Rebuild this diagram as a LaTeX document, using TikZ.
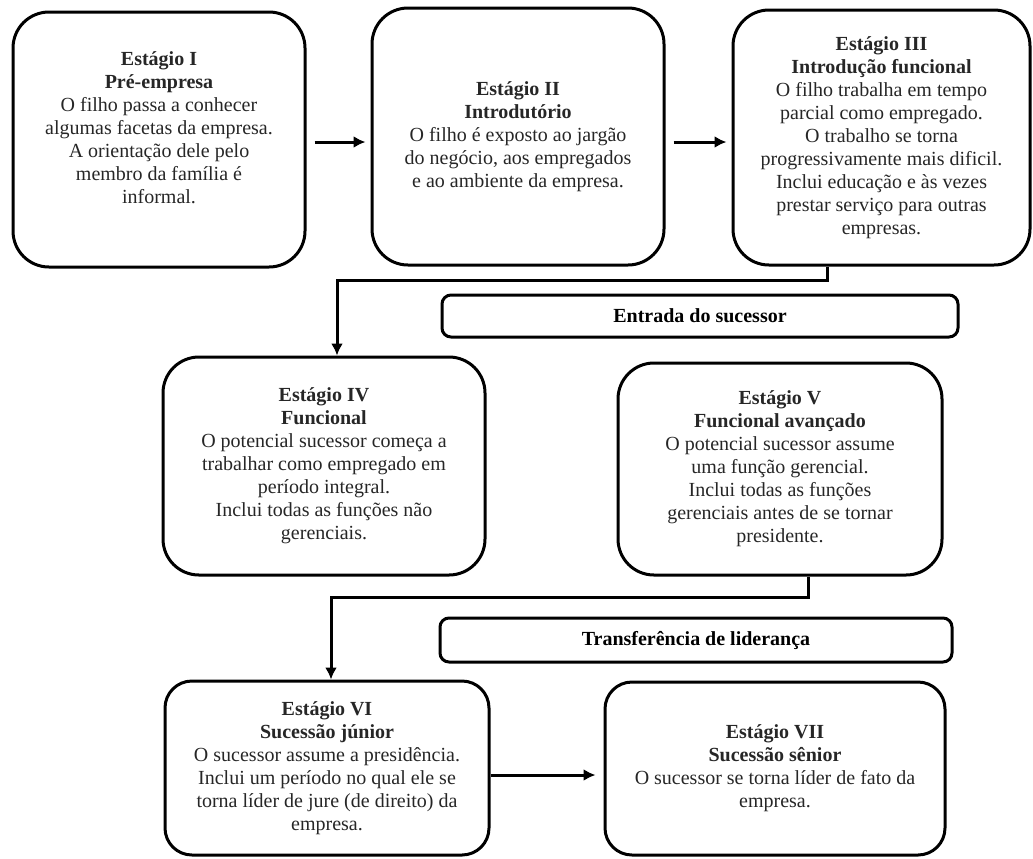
\documentclass[tikz,border=0pt]{standalone}
\usepackage{fontspec}
\setmainfont{Liberation Serif}
\usetikzlibrary{arrows.meta,shapes}

\begin{document}
\begin{tikzpicture}[x=0.5pt,y=-0.5pt,->,>={Latex[length=6pt,width=6pt]},line width=1.5pt,
			stage node/.style={rectangle,draw,rounded corners=18pt,align=center,inner sep=0pt,
				font=\fontsize{10}{11.5}\selectfont,text=black!85},
			phase node/.style={rectangle,draw,rounded corners=4.5pt,inner sep=0pt,
				font=\fontsize{10}{11.5}\selectfont\bfseries}
			]

			\useasboundingbox (0,0) rectangle (1033,858);

			% first row
			\node[stage node,minimum width=146pt,minimum height=127.5pt] at (159,139.5) (I)
				{\textbf{Estágio I}\\\textbf{Pré-empresa}\\O filho passa a conhecer\\algumas facetas da empresa.\\A orientação dele pelo\\membro da família é\\informal.\\\mbox{}};
			\node[stage node,minimum width=146pt,minimum height=128.5pt] at (518,136.5) (II)
				{\textbf{Estágio II}\\\textbf{Introdutório}\\O filho é exposto ao jargão\\do negócio, aos empregados\\e ao ambiente da empresa.};
			\node[stage node,minimum width=148.5pt,minimum height=127.5pt] at (881.5,137.5) (III)
				{\textbf{Estágio III}\\\textbf{Introdução funcional}\\O filho trabalha em tempo\\parcial como empregado.\\O trabalho se torna\\progressivamente mais dificil.\\Inclui educação e às vezes\\prestar serviço para outras\\empresas.};

			\draw[shorten <=4pt,shorten >=2.5pt] ([yshift=-1.25pt]I.east) -- ([yshift=-1.25pt]I.east -| II.west);
			\draw[shorten <=4pt,shorten >=2.5pt] ([yshift=-2.75pt]II.east) -- ([yshift=-2.75pt]II.east -| III.west);

			\node[phase node,minimum width=258pt,minimum height=21pt] at (700,316) (E) {Entrada do sucessor};

			% second row
			\node[stage node,minimum width=161pt,minimum height=109pt] at (324,466) (IV)
				{\textbf{Estágio IV}\\\textbf{Funcional}\\O potencial sucessor começa a\\trabalhar como empregado em\\período integral.\\Inclui todas as funções não\\gerenciais.};
			\node[stage node,minimum width=162pt,minimum height=106pt] at (780,469) (V)
				{\textbf{Estágio V}\\\textbf{Funcional avançado}\\O potencial sucessor assume\\uma função gerencial.\\Inclui todas as funções\\gerenciais antes de se tornar\\presidente.};

			\coordinate (c1) at (827,280);
			\draw (III.south -| c1) -- (c1) -| ([xshift=6.5pt]IV.north);

			\node[phase node,minimum width=256pt,minimum height=22pt] at (696,640) (T) {Transferência de liderança};

			% third row
			\node[stage node,rounded corners=13.5pt,minimum width=162pt,minimum height=87pt] at (327,768) (VI)
				{\textbf{Estágio VI}\\\textbf{Sucessão júnior}\\O sucessor assume a presidência.\\Inclui um período no qual ele se\\torna líder de jure (de direito) da\\empresa.};
			\node[stage node,rounded corners=13.5pt,minimum width=170pt,minimum height=86.5pt] at (775,768.5) (VII)
				{\textbf{Estágio VII}\\\textbf{Sucessão sênior}\\O sucessor se torna líder de fato da\\empresa.};

			\coordinate (c2) at (808,597);
			\draw (V.south -| c2) -- (c2) -| ([xshift=2pt]VI.north);
			\draw[shorten >=4pt] ([yshift=-3.5pt]VI.east) -- ([yshift=-3.5pt]VI.east -| VII.west);
		\end{tikzpicture}
\end{document}
